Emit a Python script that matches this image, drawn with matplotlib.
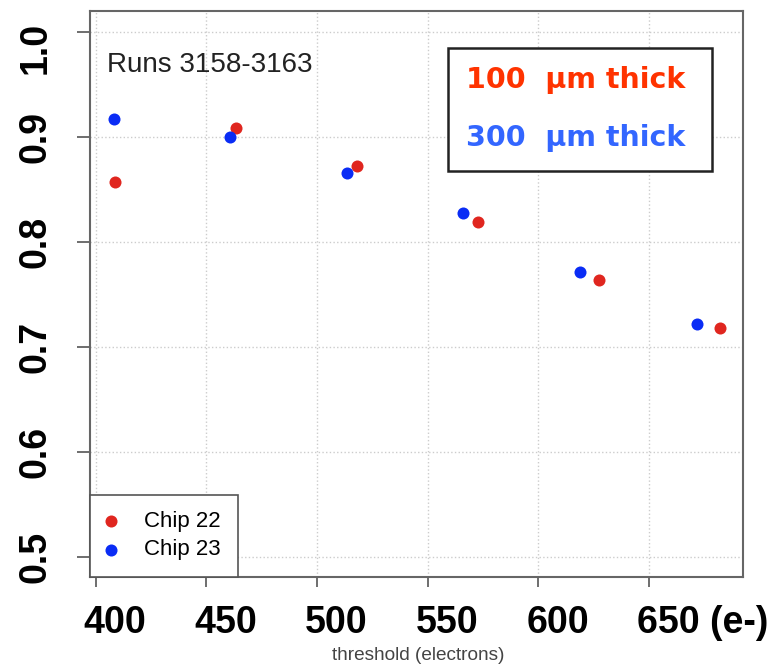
import matplotlib
matplotlib.use("Agg")
import matplotlib.pyplot as plt
import matplotlib.transforms as mtransforms
from matplotlib.patches import Rectangle

# data
chip22_x = [408.7, 463.4, 518.0, 572.7, 627.4, 681.9]
chip22_y = [0.857, 0.908, 0.872, 0.819, 0.7635, 0.7175]
chip23_x = [408.3, 460.7, 513.6, 566.2, 618.9, 671.7]
chip23_y = [0.917, 0.900, 0.865, 0.827, 0.771, 0.7216]

xticks = [400, 450, 500, 550, 600, 650]
xticklabels = ["400", "450", "500", "550", "600", "650 (e-)"]
yticks = [0.5, 0.6, 0.7, 0.8, 0.9, 1.0]
yticklabels = ["0.5", "0.6", "0.7", "0.8", "0.9", "1.0"]

red = "#e0261f"
blue = "#0a2cf5"

plt.rcParams["font.family"] = ["Liberation Sans", "DejaVu Sans"]

fig = plt.figure(figsize=(7.77, 6.66), dpi=100)
ax = fig.add_axes([0.1158, 0.1336, 0.8404, 0.8498])

s1 = ax.scatter(chip22_x, chip22_y, s=75, color=red, zorder=3, linewidths=0)
s2 = ax.scatter(chip23_x, chip23_y, s=75, color=blue, zorder=3, linewidths=0)

ax.set_xlim(397.4, 692.5)
ax.set_ylim(0.4807, 1.0197)

ax.set_xticks(xticks)
ax.set_xticklabels(xticklabels, fontsize=27, fontweight="bold", ha="left")
ax.set_yticks(yticks)
ax.set_yticklabels(yticklabels, fontsize=27, fontweight="bold", rotation=90, va="center")

ax.tick_params(axis="x", length=7, width=1.2, color="#555555", pad=13)
ax.tick_params(axis="y", length=9.5, width=1.2, color="#555555", pad=17)

# shift x labels left a bit so they sit like the original
dx = mtransforms.ScaledTranslation(-12 / 100, 0, fig.dpi_scale_trans)
for lab in ax.get_xticklabels():
    lab.set_transform(lab.get_transform() + dx)
# the 1.0 label sits lower in the reference
dy = mtransforms.ScaledTranslation(0, -16 / 100, fig.dpi_scale_trans)
ax.get_yticklabels()[-1].set_transform(ax.get_yticklabels()[-1].get_transform() + dy)

ax.grid(True, linestyle=":", color="#cccccc", linewidth=1)
ax.set_axisbelow(True)
for side in ax.spines:
    ax.spines[side].set_color("#666666")
    ax.spines[side].set_linewidth(1.5)

ax.text(0.026, 0.905, "Runs 3158-3163", transform=ax.transAxes, fontsize=20,
        color="#222222", va="center", ha="left")

# thickness box top right
box = Rectangle((447.7 / 777, 1 - 171 / 666), (711.7 - 447.7) / 777, (171 - 47.7) / 666,
                transform=fig.transFigure, facecolor="white", edgecolor="#222222",
                linewidth=1.8, zorder=5)
fig.patches.append(box)
fig.text(466 / 777, 1 - 80 / 666, "100  \u03bcm thick", color="#ff3300", fontsize=20.5,
         fontweight="bold", family=["DejaVu Sans"], va="center", ha="left", zorder=6)
fig.text(466 / 777, 1 - 138 / 666, "300  \u03bcm thick", color="#3366ff", fontsize=20.5,
         fontweight="bold", family=["DejaVu Sans"], va="center", ha="left", zorder=6)

leg = ax.legend([s1, s2], ["Chip 22", "Chip 23"], loc="lower left",
                bbox_to_anchor=(0, 0), borderaxespad=0, fontsize=16,
                fancybox=False, framealpha=1, edgecolor="#555555",
                borderpad=0.75, labelspacing=0.32, handlelength=0.4,
                handletextpad=1.3, scatterpoints=1)
leg.get_frame().set_linewidth(1.2)

# axis title at the very bottom
fig.text(418 / 777, 1 - 647 / 666, "threshold (electrons)", fontsize=13.7,
         color="#444444", ha="center", va="top")

fig.savefig("out.png", dpi=100)
